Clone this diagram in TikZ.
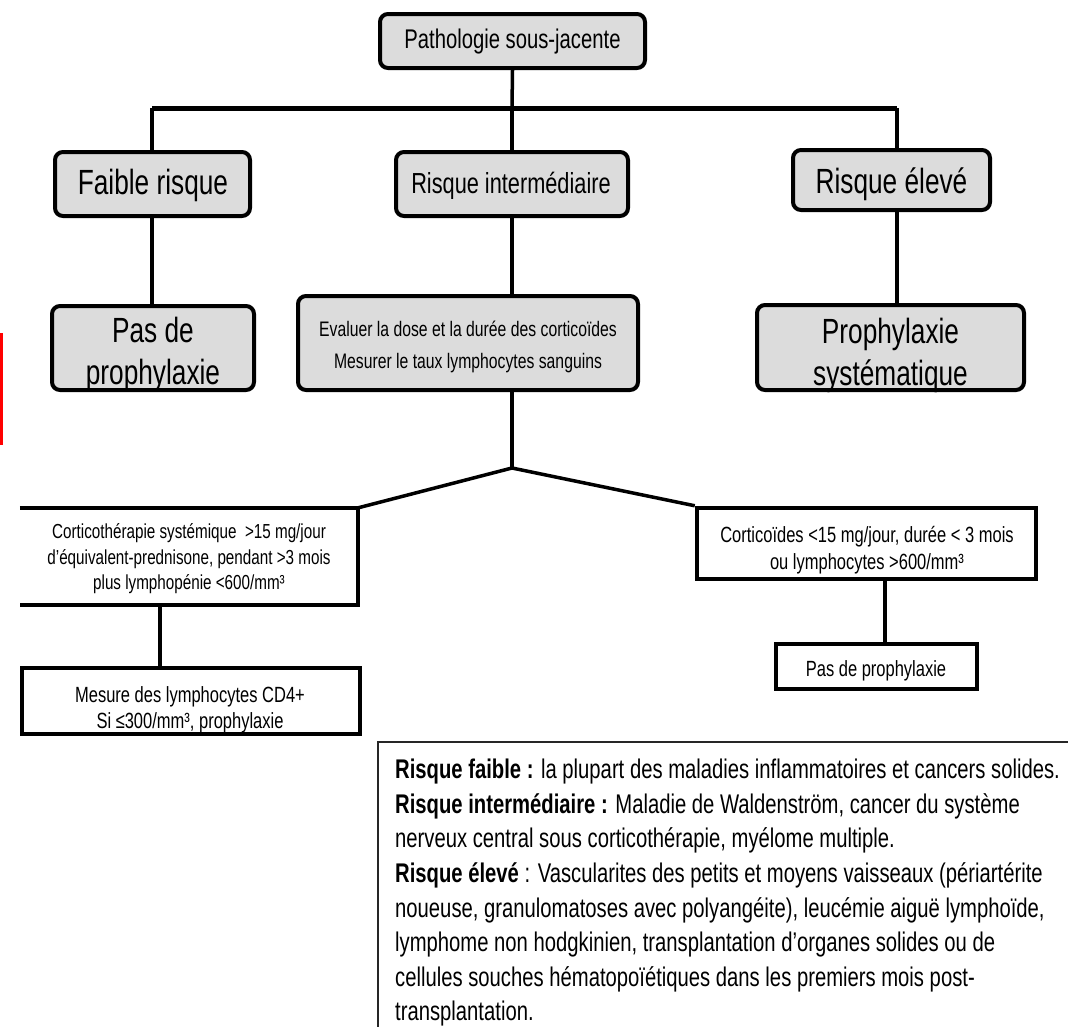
\documentclass[tikz,border=0pt]{standalone}
\usepackage{fontspec}
\setmainfont{Liberation Sans}[FakeStretch=0.75]
\definecolor{boxgray}{HTML}{DCDCDC}
\newcommand{\fs}[2]{\fontsize{#1}{#2}\selectfont}
\begin{document}
\begin{tikzpicture}[x=1pt,y=-1pt,
  graybox/.style={draw, line width=4pt, rounded corners=8pt, fill=boxgray, align=center, inner sep=0pt},
  whitebox/.style={draw, line width=4.5pt, fill=white, align=center, inner sep=0pt},
  conn/.style={line width=3.5pt},
  bar/.style={line width=5pt},
  txt/.style={align=center, inner sep=0pt}]
\useasboundingbox (0,0) rectangle (1068,1026);
\fill[white] (0,0) rectangle (1068,1026);
% red mark at the left edge
\draw[red, line width=2.5pt] (1.25,333) -- (1.25,445);

% first level
\node[graybox, minimum width=265pt, minimum height=54pt] (top) at (512.5,41) {};
\node[txt, font=\fs{27}{32}] (topT) at (512.5,42) {Pathologie sous-jacente};
\node[graybox, minimum width=195pt, minimum height=64pt] (faible) at (152.5,184) {};
\node[txt, font=\fs{35}{40}] (faibleT) at (153,185.5) {Faible risque};
\node[graybox, minimum width=232pt, minimum height=64pt] (inter) at (512,184) {};
\node[txt, font=\fs{29}{32}] (interT) at (511,185.5) {Risque intermédiaire};
\node[graybox, minimum width=197pt, minimum height=60pt] (eleve) at (891.5,180) {};
\node[txt, font=\fs{35}{40}] (eleveT) at (891.5,184) {Risque élevé};

% second level
\node[graybox, minimum width=202pt, minimum height=84pt] (pasde) at (153,348) {};
\node[txt, font=\fs{35}{42}] (pasdeT) at (153,354) {Pas de\\prophylaxie};
\node[graybox, minimum width=340pt, minimum height=94pt] (evaluer) at (468,343) {};
\node[txt, font=\fs{21}{32}] (evaluerT) at (468,347) {Evaluer la dose et la durée des corticoïdes\\Mesurer le taux lymphocytes sanguins};
\node[graybox, minimum width=267pt, minimum height=85pt] (syst) at (890.5,347.5) {};
\node[txt, font=\fs{35}{42}] (systT) at (890.5,355) {Prophylaxie\\systématique};

% third level
\node[txt, minimum width=338pt, minimum height=97pt] (cortico) at (189,556.5) {};
\node[txt, font=\fs{20.3}{25.5}] (corticoT) at (189,559) {Corticothérapie systémique\ \ >15 mg/jour\\d’équivalent-prednisone, pendant >3 mois\\plus lymphopénie <600/mm³};
\draw[line width=4.5pt] (cortico.north west) -- (cortico.north east) -- (cortico.south east) -- (cortico.south west);
\node[whitebox, minimum width=339pt, minimum height=71pt] (cort2) at (866.5,543.5) {};
\node[txt, font=\fs{22}{27}] (cort2T) at (867,550) {Corticoïdes <15 mg/jour, durée < 3 mois\\ou lymphocytes >600/mm³};

% fourth level
\node[txt, minimum width=338pt, minimum height=66pt] (mesure) at (191,701) {};
\node[txt, font=\fs{22}{26}] (mesureT) at (190,710) {Mesure des lymphocytes CD4+\\Si ≤300/mm³, prophylaxie};
\draw[line width=4.5pt] (mesure.north west) rectangle (mesure.south east);
\node[whitebox, minimum width=201pt, minimum height=45pt] (pas2) at (876.5,666.5) {};
\node[txt, font=\fs{22}{24}] (pas2T) at (876,671) {Pas de prophylaxie};

% connectors
\coordinate (j1) at (512,108);
\coordinate (jl) at (152,108);
\coordinate (jr) at (897,108);
\draw[conn] (top.south) -- (j1);
\draw[bar] (jl) -- (jr);
\draw[conn] (jl) -- (faible.north -| jl);
\draw[conn] (j1) -- (inter.north);
\draw[conn] (jr) -- (eleve.north -| jr);
\draw[conn] (faible.south -| jl) -- (pasde.north -| jl);
\draw[conn] (inter.south) -- (evaluer.north -| inter.south);
\draw[conn] (eleve.south -| jr) -- (syst.north -| jr);
\coordinate (j2) at (512,468);
\draw[conn] (evaluer.south -| j2) -- (j2);
\draw[conn] (j2) -- (cortico.north east);
\draw[conn] (j2) -- (cort2.north west);
\draw[conn] (cortico.south -| 160,0) -- (mesure.north -| 160,0);
\draw[conn] (cort2.south -| 885,0) -- (pas2.north -| 885,0);

% legend
\draw[line width=1.3pt, black!85] (1075,742) -- (378,742) -- (378,1035);
\node[anchor=north west, align=left, inner sep=0pt, font=\fs{27}{34.6}] (legend) at (395,759) {%
\textbf{Risque faible :} la plupart des maladies inflammatoires et cancers solides.\\
\textbf{Risque intermédiaire :} Maladie de Waldenström, cancer du système\\
nerveux central sous corticothérapie, myélome multiple.\\
\textbf{Risque élevé} : Vascularites des petits et moyens vaisseaux (périartérite\\
noueuse, granulomatoses avec polyangéite), leucémie aiguë lymphoïde,\\
lymphome non hodgkinien, transplantation d’organes solides ou de\\
cellules souches hématopoïétiques dans les premiers mois post-\\
transplantation.};
\end{tikzpicture}
\end{document}
